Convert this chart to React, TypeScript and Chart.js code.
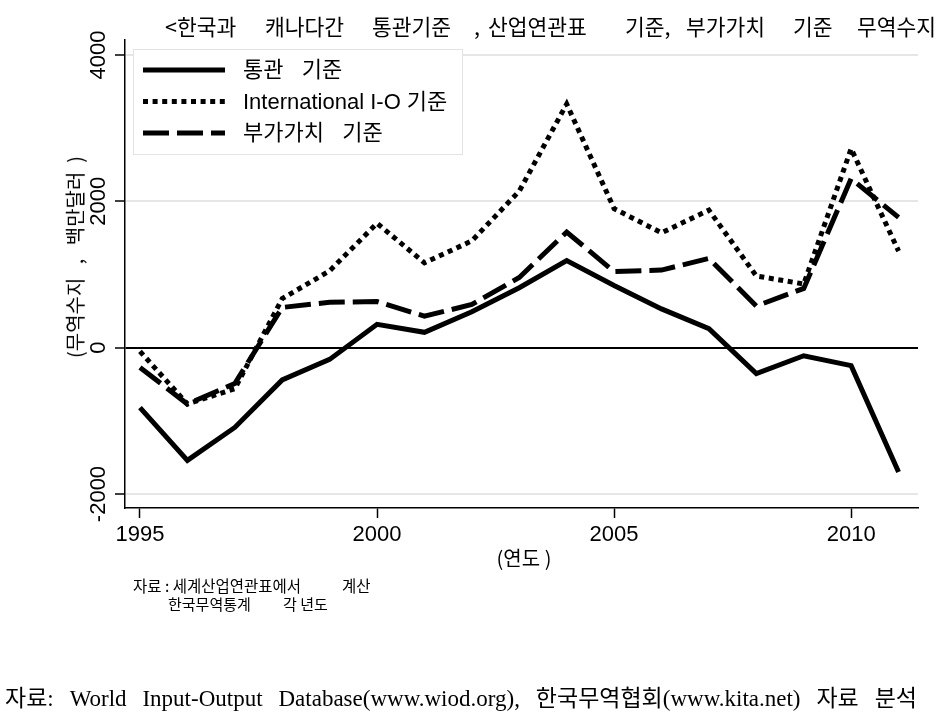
import React, { useEffect, useRef } from 'react';
import { Chart, registerables } from 'chart.js';

Chart.register(...registerables);

// ---- data ----
const YEARS = [1995, 1996, 1997, 1998, 1999, 2000, 2001, 2002, 2003, 2004, 2005, 2006, 2007, 2008, 2009, 2010, 2011];
const CUSTOMS = [-820, -1540, -1090, -440, -160, 320, 210, 490, 820, 1190, 850, 530, 260, -355, -110, -245, -1700];
const INTL_IO = [-50, -770, -560, 670, 1050, 1700, 1160, 1460, 2140, 3330, 1900, 1570, 1880, 980, 870, 2720, 1320];
const VALUE_ADDED = [-270, -770, -490, 550, 620, 630, 430, 590, 960, 1580, 1040, 1060, 1220, 570, 810, 2310, 1780];
const SERIES_LABELS = ['통관   기준', 'International I-O 기준', '부가가치   기준'];
const X_TICKS = [1995, 2000, 2005, 2010];
const Y_TICKS = [-2000, 0, 2000, 4000];
const TITLE_PARTS = ['<한국과', '캐나다간', '통관기준', ',', '산업연관표', '기준,', '부가가치', '기준', '무역수지'];
const TITLE_X = [165, 265, 372, 474, 488, 625, 686, 793, 857];
const Y_TITLE = '(무역수지   ,   백만달러  )';
const X_TITLE = '(연도 )';
const NOTE_LINE1 = ['자료 : 세계산업연관표에서', '계산'];
const NOTE_LINE1_X = [133, 342];
const NOTE_LINE2 = ['한국무역통계', '각 년도'];
const NOTE_LINE2_X = [168, 283];
const SOURCE = '자료: World Input-Output Database(www.wiod.org), 한국무역협회(www.kita.net) 자료 분석';

const SANS = '"Liberation Sans", Arial, "Noto Sans CJK KR", sans-serif';
const KSANS = '"Noto Sans CJK KR", "Liberation Sans", sans-serif';
const SERIF = '"Liberation Serif", "Times New Roman", "Noto Sans CJK KR", serif';

const legendPlugin = {
  id: 'boxLegend',
  afterDatasetsDraw(chart: any) {
    const ctx = chart.ctx;
    ctx.save();
    ctx.fillStyle = '#ffffff';
    ctx.fillRect(133, 49, 330, 106);
    ctx.strokeStyle = '#e3e3e3';
    ctx.lineWidth = 1;
    ctx.setLineDash([]);
    ctx.strokeRect(133.5, 49.5, 329, 105);
    const rows = [70, 101.5, 133];
    chart.data.datasets.forEach((ds: any, i: number) => {
      const y = rows[i];
      ctx.beginPath();
      ctx.setLineDash(ds.borderDash || []);
      ctx.lineDashOffset = 0;
      ctx.lineWidth = ds.borderWidth;
      ctx.strokeStyle = ds.borderColor;
      ctx.lineCap = 'butt';
      ctx.moveTo(143, y);
      ctx.lineTo(225, y);
      ctx.stroke();
      ctx.setLineDash([]);
      ctx.fillStyle = '#000';
      ctx.font = `22px ${SANS}`;
      ctx.textBaseline = 'middle';
      ctx.textAlign = 'left';
      ctx.fillText(ds.label, 243, y + 1);
    });
    ctx.restore();
  },
};

function ChartCanvas() {
  const ref = useRef<HTMLCanvasElement | null>(null);
  useEffect(() => {
    if (!ref.current) return;
    const mk = (vals: number[]) => YEARS.map((x, i) => ({ x, y: vals[i] }));
    const base = {
      borderColor: '#000000',
      backgroundColor: '#000000',
      borderWidth: 5,
      pointRadius: 0,
      pointHoverRadius: 0,
      tension: 0,
      fill: false,
      borderJoinStyle: 'miter' as const,
      borderCapStyle: 'butt' as const,
    };
    const chart = new Chart(ref.current, {
      type: 'line',
      data: {
        datasets: [
          { ...base, label: SERIES_LABELS[0], data: mk(CUSTOMS), borderDash: [] },
          { ...base, label: SERIES_LABELS[1], data: mk(INTL_IO), borderDash: [5, 4.6] },
          { ...base, label: SERIES_LABELS[2], data: mk(VALUE_ADDED), borderDash: [26, 8] },
        ],
      },
      options: {
        responsive: false,
        animation: false,
        devicePixelRatio: 1,
        layout: { padding: { left: 0, top: 40, right: 31, bottom: 0 } },
        plugins: {
          legend: { display: false },
          tooltip: { enabled: false },
          title: { display: false },
        },
        events: [],
        scales: {
          x: {
            type: 'linear',
            min: 1994.684,
            max: 2011.41,
            afterBuildTicks: (s: any) => {
              s.ticks = X_TICKS.map((v) => ({ value: v }));
            },
            afterFit: (s: any) => {
              s.height = 217;
            },
            grid: { drawOnChartArea: false, tickLength: 10, tickColor: '#000', tickWidth: 1.5 },
            border: { display: true, color: '#000', width: 1.5 },
            ticks: {
              autoSkip: false,
              maxRotation: 0,
              padding: 4,
              color: '#000',
              font: { family: SANS, size: 22 },
              callback: (v: any) => String(v),
            },
          },
          y: {
            type: 'linear',
            min: -2191,
            max: 4205,
            afterBuildTicks: (s: any) => {
              s.ticks = Y_TICKS.map((v) => ({ value: v }));
            },
            afterFit: (s: any) => {
              s.width = 125;
            },
            grid: {
              color: (c: any) => (c.tick && c.tick.value === 0 ? '#000000' : '#e6e6e6'),
              lineWidth: 2,
              tickLength: 10,
              tickColor: '#000',
              tickWidth: 1.5,
            },
            border: { display: true, color: '#000', width: 1.5 },
            ticks: {
              minRotation: 90,
              maxRotation: 90,
              crossAlign: 'center',
              padding: -12,
              color: '#000',
              font: { family: SANS, size: 22 },
              callback: (v: any) => String(v),
            },
          },
        },
      } as any,
      plugins: [legendPlugin],
    });
    return () => chart.destroy();
  }, []);
  return <canvas ref={ref} width={949} height={725} style={{ position: 'absolute', left: 0, top: 0 }} />;
}

const txt = (x: number, y: number, size: number, family: string, extra: React.CSSProperties = {}): React.CSSProperties => ({
  position: 'absolute',
  left: x,
  top: y,
  fontSize: size,
  fontFamily: family,
  lineHeight: 1,
  whiteSpace: 'pre',
  color: '#000',
  transform: 'translateY(-50%)',
  ...extra,
});

export default function App() {
  return (
    <div style={{ position: 'absolute', left: 0, top: 0, width: 949, height: 725, background: '#fff', overflow: 'hidden' }}>
      <ChartCanvas />
      {TITLE_PARTS.map((t, i) => (
        <div key={'t' + i} style={txt(TITLE_X[i], 26, 21.5, KSANS)}>{t}</div>
      ))}
      <div
        style={{
          position: 'absolute',
          left: 75,
          top: 257,
          fontSize: 20,
          fontFamily: KSANS,
          lineHeight: 1,
          whiteSpace: 'pre',
          color: '#000',
          transform: 'translate(-50%, -50%) rotate(-90deg)',
        }}
      >
        {Y_TITLE}
      </div>
      <div style={txt(524, 558, 20, KSANS, { transform: 'translate(-50%, -50%)' })}>{X_TITLE}</div>
      {NOTE_LINE1.map((t, i) => (
        <div key={'n1' + i} style={txt(NOTE_LINE1_X[i], 586, 15.5, KSANS)}>{t}</div>
      ))}
      {NOTE_LINE2.map((t, i) => (
        <div key={'n2' + i} style={txt(NOTE_LINE2_X[i], 603, 15, KSANS)}>{t}</div>
      ))}
      <div style={txt(5, 698, 23, SERIF, { width: 912, textAlign: 'justify', textAlignLast: 'justify', whiteSpace: 'normal' } as any)}>{SOURCE}</div>
    </div>
  );
}
